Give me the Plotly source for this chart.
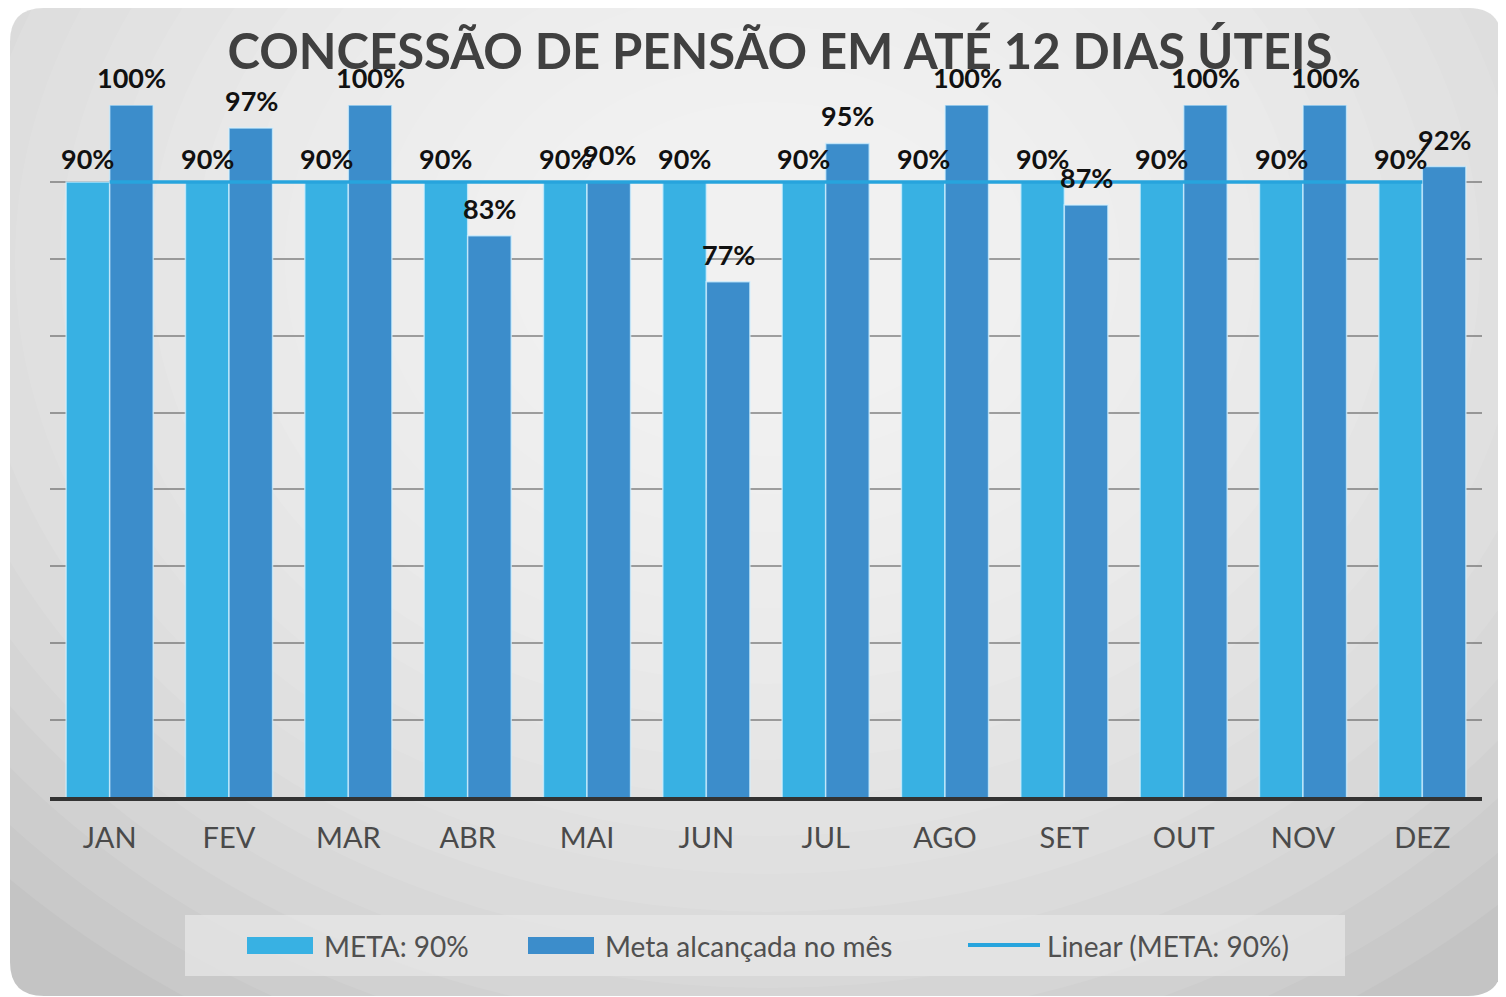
import plotly.graph_objects as go

# ---------------- data ----------------
months = ["JAN", "FEV", "MAR", "ABR", "MAI", "JUN", "JUL", "AGO", "SET", "OUT", "NOV", "DEZ"]
meta = [0.90, 0.90, 0.90, 0.90, 0.90, 0.90, 0.90, 0.90, 0.90, 0.90, 0.90, 0.90]
alcancada = [1.00, 0.97, 1.00, 0.83, 0.90, 0.77, 0.95, 1.00, 0.87, 1.00, 1.00, 0.92]
tendencia = [0.90, 0.90, 0.90, 0.90, 0.90, 0.90, 0.90, 0.90, 0.90, 0.90, 0.90, 0.90]
series_names = ["META: 90%", "Meta alcançada no mês", "Linear (META: 90%)"]
title_text = "CONCESSÃO DE PENSÃO EM ATÉ 12 DIAS ÚTEIS"

# ---------------- style ----------------
C_META = "#38b1e3"
C_ALC = "#3c8dcb"
C_LINE = "#27a4dd"
FONT = "Lato, 'Open Sans', sans-serif"

OFF = 8  # page body margin
W, H = 1506 - OFF, 997 - OFF
L, R, T, B = 50 - OFF, 24, 105 - OFF, 200
PW, PH = W - L - R, H - T - B


def px(x):
    """page x pixel -> paper coordinate"""
    return (x - OFF - L) / PW


def py(y):
    """page y pixel -> paper coordinate"""
    return (H - B - (y - OFF)) / PH


fig = go.Figure()
fig.add_trace(go.Bar(x=months, y=meta, name=series_names[0],
                     marker=dict(color=C_META, line=dict(color="rgba(210,240,255,0.75)", width=1.5)), showlegend=False))
fig.add_trace(go.Bar(x=months, y=alcancada, name=series_names[1],
                     marker=dict(color=C_ALC, line=dict(color="rgba(210,240,255,0.75)", width=1.5)), showlegend=False))
fig.add_trace(go.Scatter(x=months, y=tendencia, name=series_names[2], mode="lines",
                         line=dict(color=C_LINE, width=3.5), showlegend=False))

shapes = []
# card background (rounded rectangle)
x0, x1, y0, y1, r = 10, 1502, 8, 996, 34
rx, ry = r / PW, r / PH
X0, X1, Y0, Y1 = px(x0), px(x1), py(y1), py(y0)
path = (f"M{X0+rx},{Y1} L{X1-rx},{Y1} Q{X1},{Y1} {X1},{Y1-ry} "
        f"L{X1},{Y0+ry} Q{X1},{Y0} {X1-rx},{Y0} L{X0+rx},{Y0} Q{X0},{Y0} {X0},{Y0+ry} "
        f"L{X0},{Y1-ry} Q{X0},{Y1} {X0+rx},{Y1} Z")
shapes.append(dict(type="path", path=path, xref="paper", yref="paper", fillcolor="#c4c4c4",
                   line=dict(width=0), layer="below"))
# radial-ish gradient made of stacked translucent white ellipses
n = 20
cx, cy = 770, 260
for k in range(n):
    f = 1 - k / n
    ax, ay = 170 + 900 * f, 120 + 760 * f
    shapes.append(dict(type="circle", xref="paper", yref="paper",
                       x0=px(cx - ax), x1=px(cx + ax), y0=py(cy + ay), y1=py(cy - ay),
                       fillcolor="white", opacity=0.085, line=dict(width=0), layer="below"))
# legend box
shapes.append(dict(type="rect", xref="paper", yref="paper", x0=px(185), x1=px(1345), y0=py(976), y1=py(915),
                   fillcolor="rgba(232,232,232,0.7)", line=dict(width=0), layer="below"))
# legend swatches
shapes.append(dict(type="rect", xref="paper", yref="paper", x0=px(247), x1=px(313), y0=py(954), y1=py(937),
                   fillcolor=C_META, line=dict(width=0)))
shapes.append(dict(type="rect", xref="paper", yref="paper", x0=px(528), x1=px(594), y0=py(954), y1=py(937),
                   fillcolor=C_ALC, line=dict(width=0)))
shapes.append(dict(type="line", xref="paper", yref="paper", x0=px(968), x1=px(1040), y0=py(945), y1=py(945),
                   line=dict(color=C_LINE, width=4)))

annotations = []
for m, v in zip(months, meta):
    annotations.append(dict(x=m, y=v, xref="x", yref="y", text=f"{v:.0%}", showarrow=False, xshift=-22, yshift=5,
                            yanchor="bottom", font=dict(family=FONT, size=27, color="#111111", weight="bold")))
for m, v in zip(months, alcancada):
    annotations.append(dict(x=m, y=v, xref="x", yref="y", text=f"{v:.0%}", showarrow=False, xshift=22, yshift=9,
                            yanchor="bottom", font=dict(family=FONT, size=27, color="#111111", weight="bold")))
# legend texts
for name, xp in zip(series_names, [322, 603, 1045]):
    annotations.append(dict(x=px(xp), y=py(946), xref="paper", yref="paper", text=name, showarrow=False,
                            xanchor="left", yanchor="middle", font=dict(family=FONT, size=28, color="#505050")))

fig.update_layout(
    width=W, height=H,
    margin=dict(l=L, r=R, t=T, b=B),
    paper_bgcolor="white",
    plot_bgcolor="rgba(0,0,0,0)",
    barmode="group", bargap=0.27, bargroupgap=0.0,
    title=dict(text=title_text, x=(780 - OFF) / W, xanchor="center", xref="container",
               y=1 - (52 - OFF) / H, yanchor="middle", yref="container",
               font=dict(family=FONT, size=49, color="#404040", weight="bold")),
    shapes=shapes,
    annotations=annotations,
    showlegend=False,
)
fig.update_xaxes(showline=True, linecolor="#333333", linewidth=4, ticks="", showgrid=False,
                 tickfont=dict(family=FONT, size=29, color="#4a4a4a"), ticklabelstandoff=12)
fig.update_yaxes(range=[0.1, 1.0], dtick=0.1, showticklabels=False, showgrid=True,
                 gridcolor="rgba(90,90,90,0.55)", gridwidth=1.5, zeroline=False, ticks="")

fig.write_html("out.html")
